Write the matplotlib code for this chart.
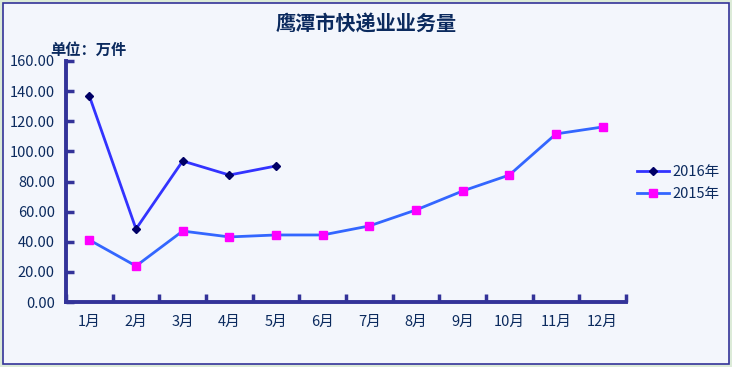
import numpy as np
import matplotlib
matplotlib.use('Agg')
import matplotlib.pyplot as plt
from matplotlib.patches import Rectangle

plt.rcParams['font.family'] = ['Noto Sans CJK SC', 'DejaVu Sans']

# data
months = ['1月', '2月', '3月', '4月', '5月', '6月', '7月', '8月', '9月', '10月', '11月', '12月']
y2016 = [136.8, 48.5, 93.6, 84.3, 90.3]
y2015 = [41.2, 23.9, 47.1, 43.2, 44.5, 44.5, 50.5, 61.1, 73.7, 84.3, 111.6, 116.2]
yticks = [0, 20, 40, 60, 80, 100, 120, 140, 160]

txt = '#0B2A5E'
axis_col = '#333399'
bg = '#F3F6FC'

fig = plt.figure(figsize=(7.32, 3.67), dpi=100)
fig.patch.set_facecolor('#DCEBD8')
fig.patches.append(Rectangle((3/732, 3/367), 726/732, 361/367, transform=fig.transFigure,
                             facecolor=bg, edgecolor=axis_col, linewidth=1.2, zorder=-10))

ax = fig.add_axes([66/732, 1-302/367, 560/732, 241/367])
ax.set_facecolor('none')

x = np.arange(len(months))
ax.plot(x, y2015, color='#3366FF', lw=2.0, marker='s', ms=5.5,
        mfc='#FF00FF', mec='#FF00FF', label='2015年', zorder=3)
ax.plot(x[:len(y2016)], y2016, color='#3333FF', lw=2.0, marker='D', ms=4.5,
        mfc='#000066', mec='#000066', label='2016年', zorder=4)

ax.set_xlim(-0.5, 11.5)
ax.set_ylim(0, 160)
ax.set_yticks(yticks)
ax.set_yticklabels(['%.2f' % v for v in yticks], color=txt, fontsize=10.5)
ax.set_xticks(np.arange(-0.5, 12, 1))
ax.set_xticklabels([])
ax.set_xticks(x, minor=True)
ax.set_xticklabels(months, minor=True, color=txt, fontsize=10.5)
ax.tick_params(axis='x', which='minor', length=0, pad=9)
ax.tick_params(axis='x', which='major', direction='in', length=6, width=2.5, color=axis_col)
ax.tick_params(axis='y', direction='in', length=6, width=2.5, color=axis_col, pad=8)

for s in ['top', 'right']:
    ax.spines[s].set_visible(False)
for s in ['left', 'bottom']:
    ax.spines[s].set_color(axis_col)
    ax.spines[s].set_linewidth(2.8)

fig.text(0.5, 1-24/367, '鹰潭市快递业业务量', ha='center', va='center',
         fontsize=14.5, fontweight='bold', color=txt)
fig.text(50/732, 1-50/367, '单位：万件', ha='left', va='center',
         fontsize=11, fontweight='bold', color=txt)

h, l = ax.get_legend_handles_labels()
leg = fig.legend(h[::-1], l[::-1], loc='center left', bbox_to_anchor=(624/732, 1-183/367),
                 frameon=False, fontsize=10.5, handlelength=2.2, labelspacing=0.5,
                 handletextpad=0.2)
for t in leg.get_texts():
    t.set_color(txt)

fig.savefig('out.png', dpi=100, facecolor=fig.get_facecolor())
